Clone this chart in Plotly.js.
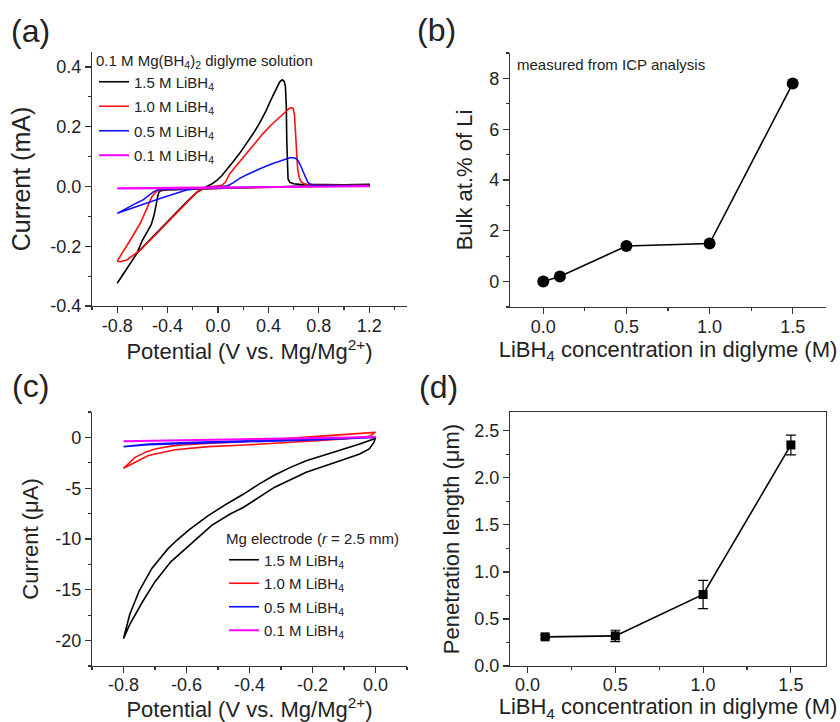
<!DOCTYPE html>
<html><head><meta charset="utf-8">
<script src="https://cdn.plot.ly/plotly-3.0.1.min.js"></script>
<style>html,body{margin:0;padding:0;background:#fff}#chart{width:840px;height:722px}</style>
</head><body><div id="chart"></div>
<script>
// ---------- Panel (a): CV, 0.1 M Mg(BH4)2 diglyme with LiBH4 ----------
const aV_15 = [-0.80,-0.75,-0.70,-0.644,-0.60,-0.55,-0.46,-0.40,-0.33,-0.25,-0.17,-0.12,-0.09,-0.05,-0.01,0.03,0.07,0.12,0.17,0.23,0.28,0.33,0.38,0.42,0.46,0.49,0.51,0.525,0.535,0.542,0.546,0.55,0.556,0.57,0.60,0.65,0.80,1.00,1.20,
               1.20,1.00,0.80,0.60,0.40,0.20,0.00,-0.20,-0.40,-0.44,-0.46,-0.47,-0.48,-0.49,-0.50,-0.51,-0.53,-0.56,-0.60,-0.644,-0.70,-0.75,-0.80];
const aI_15 = [-0.324,-0.292,-0.262,-0.224,-0.204,-0.182,-0.142,-0.116,-0.086,-0.052,-0.020,-0.006,0.000,0.008,0.020,0.036,0.056,0.083,0.110,0.145,0.177,0.212,0.252,0.290,0.325,0.350,0.357,0.352,0.335,0.27,0.15,0.06,0.025,0.014,0.009,0.007,0.006,0.006,0.007,
               0.004,0.003,0.002,0.000,-0.002,-0.004,-0.006,-0.009,-0.012,-0.013,-0.015,-0.020,-0.035,-0.060,-0.085,-0.100,-0.128,-0.150,-0.180,-0.224,-0.262,-0.292,-0.324];
const aV_10 = [-0.80,-0.776,-0.723,-0.618,-0.513,-0.381,-0.249,-0.157,-0.091,-0.04,0.00,0.03,0.06,0.093,0.15,0.225,0.29,0.357,0.42,0.489,0.54,0.568,0.585,0.597,0.607,0.614,0.62,0.627,0.633,0.645,0.66,0.69,0.725,0.85,1.00,1.20,
               1.20,0.80,0.40,0.00,-0.20,-0.40,-0.434,-0.447,-0.486,-0.526,-0.565,-0.618,-0.697,-0.776,-0.80];
const aI_10 = [-0.250,-0.252,-0.246,-0.213,-0.169,-0.113,-0.057,-0.015,-0.003,0.000,0.002,0.004,0.015,0.043,0.072,0.110,0.144,0.177,0.205,0.233,0.252,0.262,0.264,0.260,0.240,0.200,0.144,0.095,0.055,0.030,0.015,0.008,0.004,0.004,0.004,0.004,
               0.002,0.001,-0.002,-0.005,-0.008,-0.010,-0.011,-0.011,-0.015,-0.035,-0.074,-0.124,-0.180,-0.235,-0.250];
const aV_05 = [-0.80,-0.72,-0.644,-0.55,-0.46,-0.33,-0.25,-0.12,0.00,0.07,0.12,0.172,0.24,0.304,0.37,0.436,0.50,0.541,0.57,0.60,0.62,0.633,0.645,0.66,0.675,0.686,0.70,0.712,0.73,0.752,0.90,1.20,
               1.20,0.60,0.00,-0.30,-0.40,-0.447,-0.48,-0.513,-0.55,-0.592,-0.645,-0.697,-0.75,-0.80];
const aI_05 = [-0.090,-0.078,-0.068,-0.053,-0.040,-0.023,-0.012,-0.005,-0.001,0.001,0.012,0.027,0.042,0.055,0.066,0.077,0.087,0.092,0.096,0.096,0.093,0.088,0.080,0.066,0.050,0.038,0.025,0.015,0.008,0.004,0.003,0.003,
               0.002,0.000,-0.004,-0.007,-0.009,-0.010,-0.012,-0.018,-0.030,-0.044,-0.055,-0.066,-0.078,-0.090];
const aV_01 = [-0.80,-0.40,0.00,0.40,0.80,1.20,1.20,0.80,0.40,0.00,-0.40,-0.80];
const aI_01 = [-0.006,-0.005,-0.003,-0.001,0.000,0.001,0.000,-0.001,-0.002,-0.004,-0.006,-0.007];

// ---------- Panel (b): Li content from ICP ----------
const bConc = [0, 0.1, 0.5, 1.0, 1.5];
const bLi   = [0, 0.2, 1.4, 1.5, 7.8];

// ---------- Panel (c): CV on Mg electrode (r = 2.5 mm) ----------
const cV_15 = [0.00,-0.01,-0.05,-0.11,-0.17,-0.22,-0.27,-0.32,-0.37,-0.42,-0.47,-0.53,-0.59,-0.63,-0.66,-0.71,-0.75,-0.78,-0.80,-0.78,-0.74,-0.70,-0.65,-0.58,-0.52,-0.46,-0.42,-0.32,-0.22,-0.11,-0.05,-0.02,-0.005,0.00];
const cI_15 = [0.0,-0.2,-0.65,-1.25,-1.8,-2.3,-2.95,-3.7,-4.6,-5.6,-6.5,-7.68,-9.05,-10.1,-11.0,-12.9,-15.1,-17.4,-19.8,-18.4,-16.2,-14.2,-12.25,-10.3,-8.66,-7.51,-6.9,-4.9,-3.43,-2.28,-1.63,-1.14,-0.5,0.0];
const cV_10 = [-0.80,-0.78,-0.763,-0.73,-0.70,-0.65,-0.615,-0.51,-0.415,-0.30,-0.20,-0.10,0.00,-0.02,-0.10,-0.20,-0.304,-0.415,-0.531,-0.636,-0.721,-0.773,-0.80];
const cI_10 = [-3.04,-2.4,-1.96,-1.45,-1.14,-0.86,-0.75,-0.55,-0.42,-0.15,0.07,0.28,0.49,0.1,-0.15,-0.35,-0.55,-0.75,-0.91,-1.21,-1.79,-2.61,-3.04];
const cV_05 = [-0.80,-0.72,-0.60,-0.40,-0.20,0.00,-0.20,-0.40,-0.60,-0.72,-0.80];
const cI_05 = [-0.91,-0.65,-0.50,-0.33,-0.18,0.0,-0.24,-0.40,-0.56,-0.72,-0.91];
const cV_01 = [-0.80,-0.60,-0.40,-0.20,0.00,0.00,-0.40,-0.80];
const cI_01 = [-0.39,-0.30,-0.21,-0.11,0.0,0.03,-0.19,-0.37];

// ---------- Panel (d): penetration length ----------
const dConc = [0.1, 0.5, 1.0, 1.5];
const dLen  = [0.31, 0.32, 0.76, 2.35];
const dErr  = [0.02, 0.06, 0.15, 0.105];

// ---------- Labels ----------
const seriesNames = ['1.5 M LiBH<sub>4</sub>','1.0 M LiBH<sub>4</sub>','0.5 M LiBH<sub>4</sub>','0.1 M LiBH<sub>4</sub>'];
const aXTicks = [-0.8,-0.4,0.0,0.4,0.8,1.2];
const aXText  = ['-0.8','-0.4','0.0','0.4','0.8','1.2'];
const aYTicks = [-0.4,-0.2,0.0,0.2,0.4];
const aYText  = ['-0.4','-0.2','0.0','0.2','0.4'];
const bXTicks = [0,0.5,1.0,1.5];
const bXText  = ['0.0','0.5','1.0','1.5'];
const bYTicks = [0,2,4,6,8];
const bYText  = ['0','2','4','6','8'];
const cXTicks = [-0.8,-0.6,-0.4,-0.2,0.0];
const cXText  = ['-0.8','-0.6','-0.4','-0.2','0.0'];
const cYTicks = [-20,-15,-10,-5,0];
const cYText  = ['-20','-15','-10','-5','0'];
const dXTicks = [0,0.5,1.0,1.5];
const dXText  = ['0.0','0.5','1.0','1.5'];
const dYTicks = [0,0.5,1.0,1.5,2.0,2.5];
const dYText  = ['0.0','0.5','1.0','1.5','2.0','2.5'];

const FONT = 'Arial, "Liberation Sans", Helvetica, sans-serif';
const AXC = '#333';
const TXT = '#222';
const colors = ['#000000','#ff1010','#1010ff','#ff00ff'];

function cvTrace(x, y, i, xa, ya, leg) {
  return {x, y, type:'scatter', mode:'lines', xaxis:xa, yaxis:ya, name:seriesNames[i],
    legend:leg, legendgroup:leg+'g'+i,
    line:{color:colors[i], width: i===3 ? 2 : 1.6}, hoverinfo:'skip'};
}

const traces = [
  cvTrace(aV_15, aI_15, 0, 'x', 'y', 'legend'),
  cvTrace(aV_10, aI_10, 1, 'x', 'y', 'legend'),
  cvTrace(aV_05, aI_05, 2, 'x', 'y', 'legend'),
  cvTrace(aV_01, aI_01, 3, 'x', 'y', 'legend'),
  {x:bConc, y:bLi, type:'scatter', mode:'lines+markers', xaxis:'x2', yaxis:'y2', showlegend:false,
   line:{color:'#000', width:1.6}, marker:{color:'#000', size:12, symbol:'circle'}},
  cvTrace(cV_15, cI_15, 0, 'x3', 'y3', 'legend2'),
  cvTrace(cV_10, cI_10, 1, 'x3', 'y3', 'legend2'),
  cvTrace(cV_05, cI_05, 2, 'x3', 'y3', 'legend2'),
  cvTrace(cV_01, cI_01, 3, 'x3', 'y3', 'legend2'),
  {x:dConc, y:dLen, type:'scatter', mode:'lines+markers', xaxis:'x4', yaxis:'y4', showlegend:false,
   line:{color:'#000', width:1.6}, marker:{color:'#000', size:9, symbol:'square'},
   error_y:{type:'data', array:dErr, visible:true, color:'#000', thickness:1.2, width:5}}
];

function mkAxis(o) {
  const a = {
    domain:o.domain, range:o.range, anchor:o.anchor,
    tickmode:'array', tickvals:o.tickvals, ticktext:o.ticktext,
    ticks:'outside', ticklen:6, tickwidth:1.2, tickcolor:AXC,
    minor:{tickmode:'linear', tick0:o.minor0, dtick:o.minorD, ticks:'outside', ticklen:3, tickwidth:1.2, tickcolor:AXC, showgrid:false},
    showline:true, linecolor:AXC, linewidth:1.2, mirror:o.mirror || false,
    showgrid:false, zeroline:false, fixedrange:true,
    tickfont:{family:FONT, size:18, color:TXT},
    title:{text:o.title, font:{family:FONT, size:o.tsize || 22, color:TXT}, standoff:o.standoff}
  };
  if (o.labelStandoff !== undefined) a.ticklabelstandoff = o.labelStandoff;
  return a;
}

const W = 840, H = 722;
const px = v => v / W;
const py = v => 1 - v / H;

const potTitle = 'Potential (V vs. Mg/Mg<sup>2+</sup>)';
const concTitle = 'LiBH<sub>4</sub> concentration in diglyme (M)';

const layout = {
  width:W, height:H, margin:{l:0, r:0, t:0, b:0},
  paper_bgcolor:'#fff', plot_bgcolor:'#fff',
  font:{family:FONT, color:TXT},
  showlegend:true,
  xaxis: mkAxis({domain:[px(92),px(407)], range:[-1.0,1.5], anchor:'y', tickvals:aXTicks, ticktext:aXText, minor0:-1.0, minorD:0.2, title:potTitle, standoff:2, labelStandoff:-3}),
  yaxis: mkAxis({domain:[py(306),py(52)], range:[-0.4,0.45], anchor:'x', tickvals:aYTicks, ticktext:aYText, minor0:-0.4, minorD:0.1, title:'Current (mA)', tsize:25, standoff:12}),
  xaxis2: mkAxis({domain:[px(510),px(826)], range:[-0.2,1.7], anchor:'y2', tickvals:bXTicks, ticktext:bXText, minor0:0, minorD:0.25, title:concTitle, standoff:0, labelStandoff:-3}),
  yaxis2: mkAxis({domain:[py(307),py(53)], range:[-1,9], anchor:'x2', tickvals:bYTicks, ticktext:bYText, minor0:-1, minorD:1, title:'Bulk at.% of Li', standoff:10}),
  xaxis3: mkAxis({domain:[px(92),px(407)], range:[-0.9,0.1], anchor:'y3', tickvals:cXTicks, ticktext:cXText, minor0:-0.9, minorD:0.1, title:potTitle, standoff:2, labelStandoff:-4}),
  yaxis3: mkAxis({domain:[py(666),py(412)], range:[-22.5,2.5], anchor:'x3', tickvals:cYTicks, ticktext:cYText, minor0:-22.5, minorD:2.5, title:'Current (μA)', standoff:10}),
  xaxis4: mkAxis({domain:[px(510),px(826)], range:[-0.1,1.7], anchor:'y4', tickvals:dXTicks, ticktext:dXText, minor0:0, minorD:0.25, title:concTitle, standoff:0, mirror:true, labelStandoff:-4}),
  yaxis4: mkAxis({domain:[py(666),py(412)], range:[0,2.7], anchor:'x4', tickvals:dYTicks, ticktext:dYText, minor0:0, minorD:0.25, title:'Penetration length (μm)', standoff:8, mirror:true}),
  legend:{x:px(94), y:py(46), xanchor:'left', yanchor:'top', bgcolor:'rgba(0,0,0,0)', borderwidth:0,
    font:{family:FONT, size:15, color:TXT}, tracegroupgap:2, itemwidth:30,
    title:{text:'0.1 M Mg(BH<sub>4</sub>)<sub>2</sub> diglyme solution', font:{family:FONT, size:15, color:TXT}}},
  legend2:{x:px(224), y:py(524), xanchor:'left', yanchor:'top', bgcolor:'rgba(0,0,0,0)', borderwidth:0,
    font:{family:FONT, size:15, color:TXT}, tracegroupgap:1, itemwidth:30,
    title:{text:'Mg electrode (<i>r</i> = 2.5 mm)', font:{family:FONT, size:15, color:TXT}}},
  annotations:[
    {text:'(a)', xref:'paper', yref:'paper', x:px(9), y:py(31), xanchor:'left', yanchor:'middle', showarrow:false, font:{family:FONT, size:32, color:TXT}},
    {text:'(b)', xref:'paper', yref:'paper', x:px(415), y:py(30), xanchor:'left', yanchor:'middle', showarrow:false, font:{family:FONT, size:32, color:TXT}},
    {text:'(c)', xref:'paper', yref:'paper', x:px(10), y:py(386), xanchor:'left', yanchor:'middle', showarrow:false, font:{family:FONT, size:32, color:TXT}},
    {text:'(d)', xref:'paper', yref:'paper', x:px(417), y:py(387), xanchor:'left', yanchor:'middle', showarrow:false, font:{family:FONT, size:32, color:TXT}},
    {text:'measured from ICP analysis', xref:'paper', yref:'paper', x:px(515), y:py(64), xanchor:'left', yanchor:'middle', showarrow:false, font:{family:FONT, size:15, color:TXT}}
  ]
};

Plotly.newPlot('chart', traces, layout, {staticPlot:true, displayModeBar:false});
</script>
</body></html>
